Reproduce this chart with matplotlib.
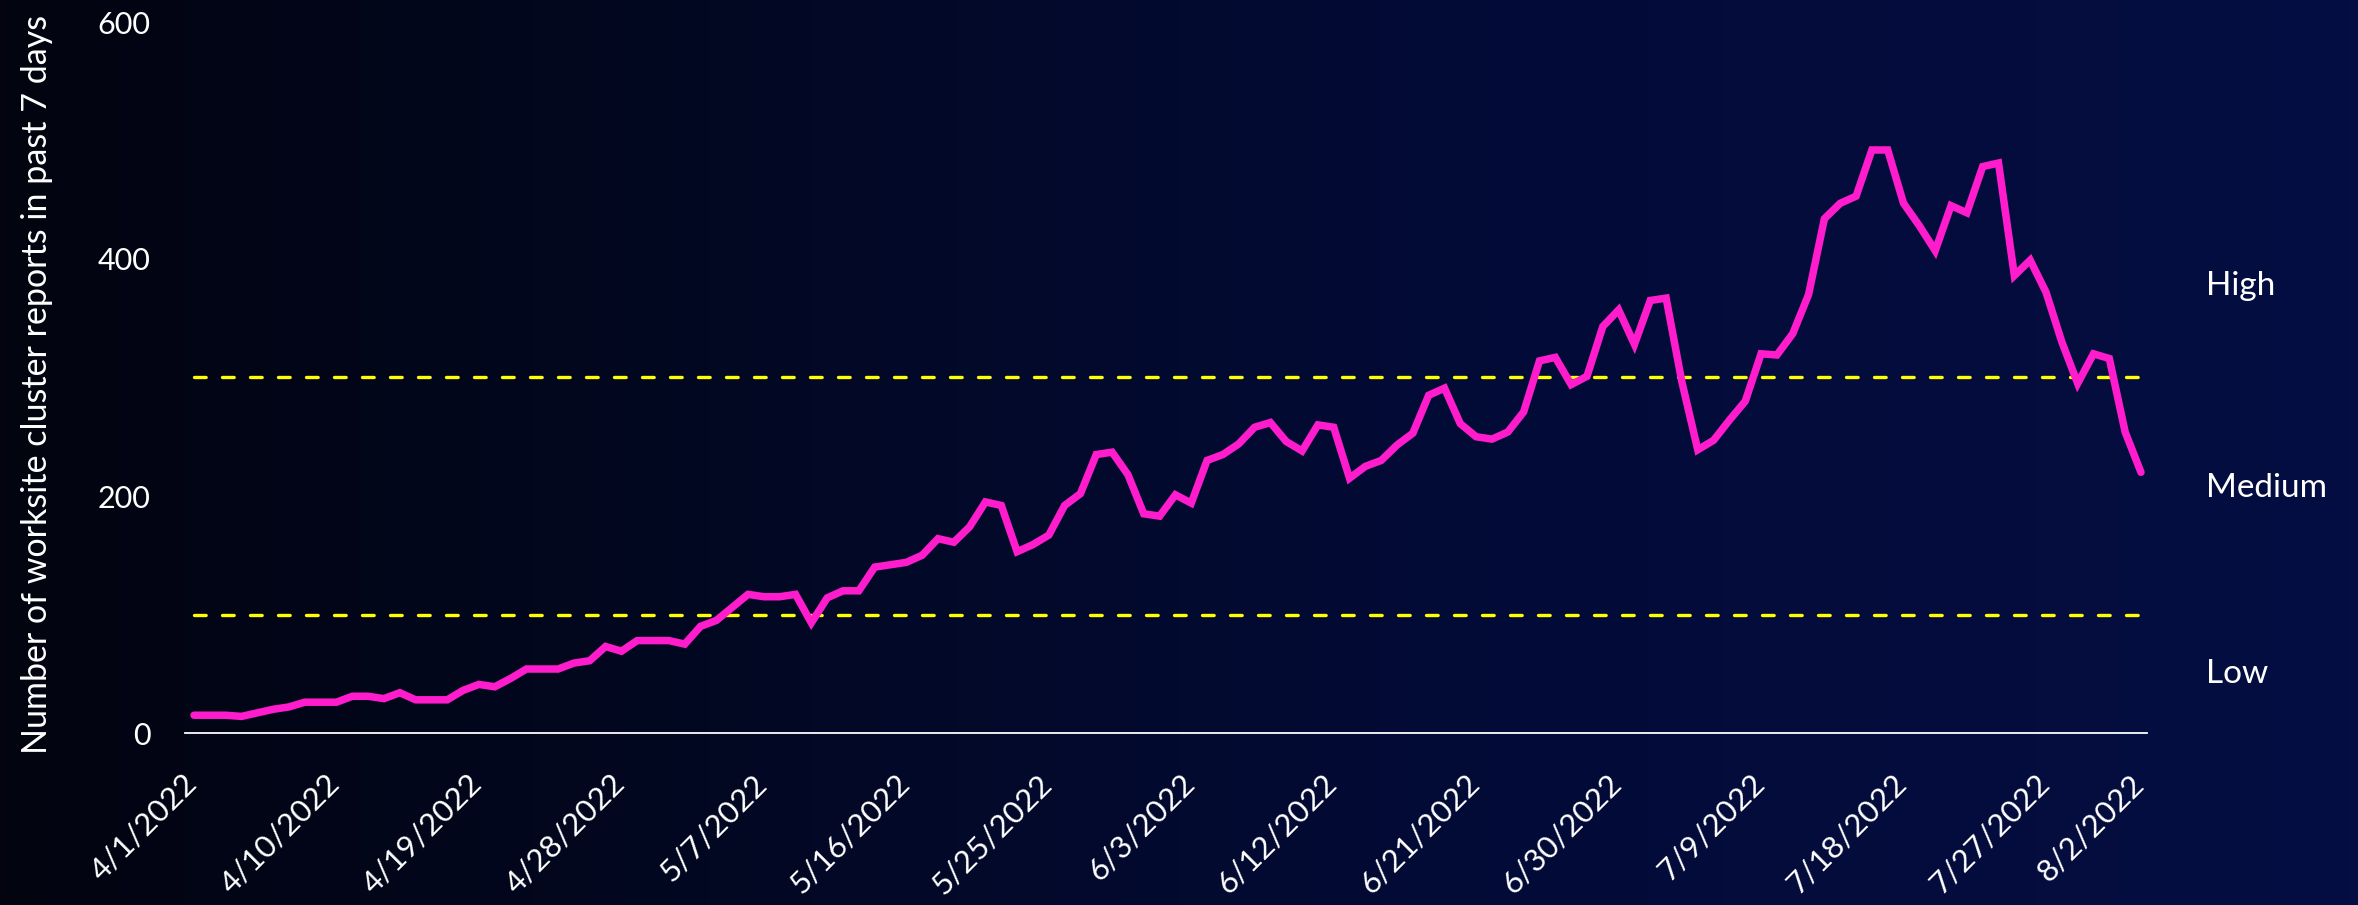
import numpy as np
import pandas as pd
import matplotlib
matplotlib.use("Agg")
import matplotlib.pyplot as plt
from matplotlib.colors import LinearSegmentedColormap
from matplotlib.transforms import ScaledTranslation, blended_transform_factory

# ---------------- data ----------------
start_date = "2022-04-01"
reports = [
    15, 15, 15, 14, 17, 20, 22, 26, 26, 26,
    31, 31, 29, 34, 28, 28, 28, 36, 41, 39,
    46, 54, 54, 54, 59, 61, 73, 69, 78, 78,
    78, 75, 90, 95, 106, 117, 115, 115, 117, 93,
    114, 120, 120, 140, 142, 144, 150, 164, 161, 174,
    195, 192, 153, 159, 167, 192, 202, 235, 237, 218,
    185, 183, 201, 194, 230, 235, 244, 258, 262, 246,
    238, 260, 258, 215, 225, 230, 243, 253, 285, 291,
    261, 250, 248, 254, 271, 314, 317, 294, 301, 343,
    357, 328, 365, 367, 296, 239, 247, 264, 280, 320,
    319, 337, 370, 434, 447, 453, 492, 492, 447, 428,
    407, 445, 439, 478, 481, 386, 399, 372, 330, 295,
    320, 316, 254, 220,
]
tick_labels = ["4/1/2022", "4/10/2022", "4/19/2022", "4/28/2022", "5/7/2022",
               "5/16/2022", "5/25/2022", "6/3/2022", "6/12/2022", "6/21/2022",
               "6/30/2022", "7/9/2022", "7/18/2022", "7/27/2022", "8/2/2022"]
thresholds = [100, 300]
level_names = ["Low", "Medium", "High"]
level_label_y = [50, 207, 377]
y_ticks = [0, 200, 400, 600]
ylabel = "Number of worksite cluster reports in past 7 days"

dates = pd.date_range(start_date, periods=len(reports), freq="D")
tick_dates = pd.to_datetime(tick_labels, format="%m/%d/%Y")

# ---------------- style ----------------
FONT = ["Lato", "DejaVu Sans"]
plt.rcParams["font.family"] = FONT
WHITE = "#ffffff"
MAGENTA = "#ff1ccc"
YELLOW = "#ffff00"

fig = plt.figure(figsize=(23.58, 9.05), dpi=100)

# gradient background
bg = fig.add_axes([0, 0, 1, 1], zorder=-10)
cmap = LinearSegmentedColormap.from_list(
    "bg", [(0.0, "#030410"), (0.3, "#020822"), (0.6, "#020b36"), (1.0, "#050e42")])
grad = np.linspace(0, 1, 512).reshape(1, -1)
bg.imshow(grad, aspect="auto", cmap=cmap, extent=[0, 1, 0, 1])
bg.set_axis_off()

ax = fig.add_axes([185 / 2358, 1 - 733 / 905, 1962 / 2358, 711 / 905])
ax.set_facecolor("none")

ax.plot(dates, reports, color=MAGENTA, lw=5.4, solid_capstyle="round",
        solid_joinstyle="miter", zorder=3)

for t in thresholds:
    ax.hlines(t, dates[0], dates[-1], colors=YELLOW, lw=2.4,
              linestyles=(0, (3.5, 4.9)), capstyle="round", zorder=2)

day = pd.Timedelta(days=1)
ax.set_xlim(dates[0] - 0.57 * day, dates[-1] + 0.38 * day)
ax.set_ylim(0, 600)

# x tick labels drawn as rotated texts anchored at each tick date
ax.set_xticks(tick_dates)
ax.set_xticklabels([])
ax.tick_params(axis="x", length=0)
xtrans = blended_transform_factory(ax.transData, ax.transAxes) + \
    ScaledTranslation(6 / 72, -26 / 72, fig.dpi_scale_trans)
for d, lab in zip(tick_dates, tick_labels):
    ax.text(d, 0, lab, transform=xtrans, rotation=45, ha="right", va="top",
            fontsize=22.5, color=WHITE)

ax.set_yticks(y_ticks)
ax.set_yticklabels([str(v) for v in y_ticks], fontsize=22, color=WHITE)
ax.tick_params(axis="y", length=0, pad=25)

for s in ["top", "right", "left"]:
    ax.spines[s].set_visible(False)
ax.spines["bottom"].set_color(WHITE)
ax.spines["bottom"].set_linewidth(1.3)

ax.text(-0.0754, 0.49, ylabel, transform=ax.transAxes, rotation=90,
        ha="center", va="center", fontsize=24.5, color=WHITE)

trans = blended_transform_factory(ax.transAxes, ax.transData)
for name, yv in zip(level_names, level_label_y):
    ax.text(1.03, yv, name, transform=trans, ha="left", va="center",
            fontsize=24, color=WHITE)

fig.savefig("out.png", dpi=100)
